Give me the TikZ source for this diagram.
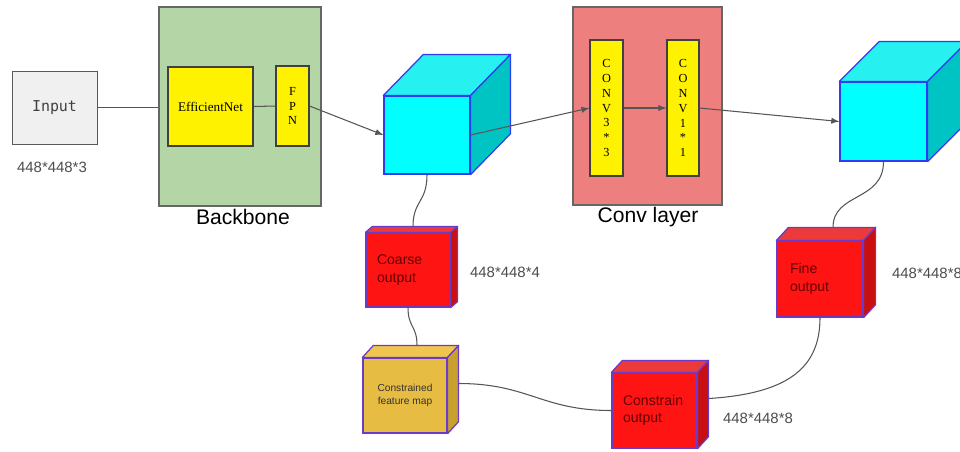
\documentclass[tikz,border=0pt]{standalone}
\usepackage{fontspec}
\setmainfont{Liberation Serif}
\setsansfont{Liberation Sans}
\setmonofont{DejaVu Sans Mono}
\usepackage{xcolor}
\usetikzlibrary{calc}

\definecolor{bbgreen}{HTML}{B4D6A6}
\definecolor{convred}{HTML}{EE7F7F}
\definecolor{cubecyan}{HTML}{00FFFF}
\definecolor{cubecyantop}{HTML}{26F0F0}
\definecolor{cubecyanside}{HTML}{00C4C4}
\definecolor{outred}{HTML}{FF1414}
\definecolor{outredtop}{HTML}{EC3A3A}
\definecolor{outredside}{HTML}{C81010}
\definecolor{mapgold}{HTML}{E6BC42}
\definecolor{mapgoldtop}{HTML}{F0C64E}
\definecolor{mapgoldside}{HTML}{C8A02E}
\definecolor{edgeblue}{HTML}{2E3CF0}
\definecolor{edgepurple}{HTML}{6A3BC8}
\definecolor{linegray}{HTML}{555555}

% top and side faces behind a front face node: node, dx, dy, top, side, edge
\newcommand{\boxdepth}[6]{%
  \draw[#6, fill=#4, line width=0.7pt, line join=round] (#1.north west) -- ++(#2,-#3) -- ($(#1.north east)+(#2,-#3)$) -- (#1.north east) -- cycle;
  \draw[#6, fill=#5, line width=0.7pt, line join=round] (#1.north east) -- ++(#2,-#3) -- ($(#1.south east)+(#2,-#3)$) -- (#1.south east) -- cycle;}

\begin{document}
\begin{tikzpicture}[x=0.02cm, y=-0.02cm,
    every node/.style={inner sep=0pt},
    layerbox/.style={draw=gray!80!black, line width=0.6pt},
    yellowbox/.style={draw=black!75, fill=yellow, line width=0.6pt, align=center, font=\fontsize{7}{8.5}\selectfont},
    cubefront/.style={draw=edgeblue, fill=cubecyan, line width=0.7pt},
    outbox/.style={draw=edgepurple, fill=outred, line width=0.7pt, align=left, text=red!40!black, font=\sffamily\fontsize{8}{10}\selectfont},
    dimlabel/.style={font=\sffamily\fontsize{8.5}{10}\selectfont, text=black!70},
    titlelabel/.style={font=\sffamily\fontsize{12}{14}\selectfont},
    link/.style={draw=linegray, line width=0.6pt},
    arrowlink/.style={link, -latex}]
  \useasboundingbox (0,0) rectangle (960,451);

  % input
  \node[draw=gray!70!black, fill=gray!12, minimum width=1.7cm, minimum height=1.46cm,
        font=\ttfamily\fontsize{8.5}{10}\selectfont, text=black!75] (input) at (54.5,107.5) {Input};
  \node[dimlabel] (inputdim) at (52,167) {448*448*3};

  % backbone
  \node[layerbox, fill=bbgreen, minimum width=3.24cm, minimum height=3.98cm] (backbone) at (240,106.5) {};
  \node[titlelabel] (backbonetxt) at (243,217) {Backbone};
  \node[yellowbox, minimum width=1.7cm, minimum height=1.58cm, font=\fontsize{7.5}{9}\selectfont] (effnet) at (210.5,106.5) {EfficientNet};
  \node[yellowbox, minimum width=0.66cm, minimum height=1.6cm] (fpn) at (292.5,106) {F\\P\\N};

  % conv layer
  \node[layerbox, fill=convred, minimum width=2.98cm, minimum height=3.96cm] (convlayer) at (647.5,106) {};
  \node[titlelabel] (convtxt) at (648,217) {Conv layer};
  \node[yellowbox, minimum width=0.66cm, minimum height=2.72cm] (convthree) at (606.5,108) {C\\O\\N\\V\\3\\*\\3};
  \node[yellowbox, minimum width=0.64cm, minimum height=2.72cm] (convone) at (683,108) {C\\O\\N\\V\\1\\*\\1};

  % feature cubes
  \node[cubefront, minimum width=1.72cm, minimum height=1.56cm] (featA) at (427,135) {};
  \boxdepth{featA}{40}{41}{cubecyantop}{cubecyanside}{edgeblue}
  \node[cubefront, minimum width=1.74cm, minimum height=1.58cm] (featB) at (883.5,121.5) {};
  \boxdepth{featB}{40}{40}{cubecyantop}{cubecyanside}{edgeblue}

  % outputs
  \node[outbox, minimum width=1.68cm, minimum height=1.48cm, text width=1.24cm] (coarse) at (408,270) {Coarse\\output};
  \boxdepth{coarse}{7}{6}{outredtop}{outredside}{edgepurple}
  \node[dimlabel] (coarsedim) at (505,272) {448*448*4};

  \node[outbox, fill=mapgold, minimum width=1.68cm, minimum height=1.5cm, align=center, text=black!80,
        font=\sffamily\fontsize{5.8}{7.4}\selectfont] (cmap) at (405,395.5) {Constrained\\feature map};
  \boxdepth{cmap}{11}{12}{mapgoldtop}{mapgoldside}{edgepurple}

  \node[outbox, minimum width=1.7cm, minimum height=1.5cm, text width=1.26cm] (constrain) at (654.5,410.5) {Constrain\\output};
  \boxdepth{constrain}{11}{12}{outredtop}{outredside}{edgepurple}
  \node[dimlabel] (constraindim) at (758,418) {448*448*8};

  \node[outbox, minimum width=1.72cm, minimum height=1.52cm, text width=1.2cm] (fine) at (820,279) {Fine\\output};
  \boxdepth{fine}{12}{13}{outredtop}{outredside}{edgepurple}
  \node[dimlabel] (finedim) at (927,273) {448*448*8};

  % connectors
  \draw[link] (input.east) -- (input.east -| backbone.west);
  \draw[link] (effnet.east) -- (fpn.west);
  \draw[arrowlink] (fpn.east) -- (featA.west);
  \draw[arrowlink] (featA.east) -- (convthree.west);
  \draw[arrowlink] (convthree.east) -- (convone.west);
  \draw[arrowlink] (convone.east) -- (featB.west);
  \draw[link] (featA.south) .. controls +(0,28) and +(0,-26) .. ($(coarse.north)+(5,-6)$);
  \draw[link] (coarse.south) .. controls +(0,20) and +(0,-20) .. ($(cmap.north)+(12,-12)$);
  \draw[link] ($(cmap.east)+(11,-12)$) .. controls +(70,0) and +(-70,0) .. (constrain.west);
  \draw[link] ($(constrain.east)+(11,-12)$) .. controls +(80,-5) and +(0,50) .. (fine.south);
  \draw[link] (featB.south) .. controls +(0,40) and +(0,-35) .. ($(fine.north)+(13,-13)$);
\end{tikzpicture}
\end{document}
